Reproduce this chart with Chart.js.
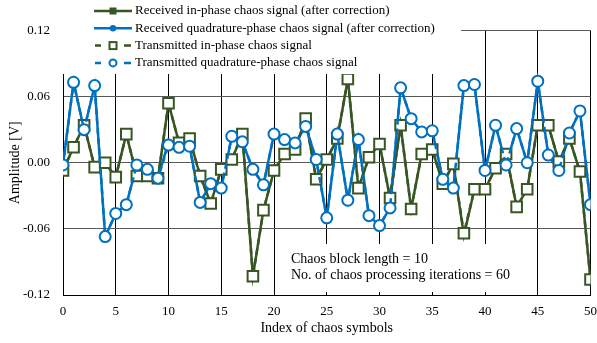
<!DOCTYPE html>
<html>
<head>
<meta charset="utf-8">
<script src="https://cdn.jsdelivr.net/npm/chart.js@4/dist/chart.umd.min.js"></script>
<style>
  html, body { margin: 0; padding: 0; background: #fff; }
  #wrap { width: 597px; height: 343px; }
</style>
</head>
<body>
<div id="wrap"><canvas id="chart" width="597" height="343"></canvas></div>
<script>
const symbolIndex = [
  0, 1, 2, 3, 4, 5, 6, 7, 8, 9, 10, 11, 12, 13, 14, 15, 16, 17, 18, 19, 20,
  21, 22, 23, 24, 25, 26, 27, 28, 29, 30, 31, 32, 33, 34, 35, 36, 37, 38, 39, 40,
  41, 42, 43, 44, 45, 46, 47, 48, 49, 50,
];

const txInPhase = [
  -0.007, 0.014, 0.034, -0.004, 0.000, -0.013, 0.026, -0.012, -0.012, -0.014,
  0.054, 0.018, 0.022, -0.012, -0.037, -0.006, 0.003, 0.026, -0.103, -0.043,
  -0.007, 0.008, 0.012, 0.040, -0.015, 0.003, 0.022, 0.076, -0.023, 0.005,
  0.017, -0.032, 0.034, -0.042, 0.008, 0.012, -0.019, -0.001, -0.064, -0.024,
  -0.024, -0.005, 0.008, -0.040, -0.024, 0.034, 0.034, 0.001, 0.022, -0.008,
  -0.106,
];
const rxInPhase = [
  -0.007, 0.014, 0.034, -0.004, 0.000, -0.013, 0.026, -0.012, -0.012, -0.014,
  0.054, 0.018, 0.022, -0.012, -0.037, -0.006, 0.003, 0.026, -0.103, -0.043,
  -0.007, 0.008, 0.012, 0.040, -0.015, 0.003, 0.022, 0.076, -0.023, 0.005,
  0.017, -0.032, 0.034, -0.042, 0.008, 0.012, -0.019, -0.001, -0.066, -0.024,
  -0.024, -0.005, 0.008, -0.040, -0.024, 0.034, 0.034, 0.001, 0.022, -0.008,
  -0.106,
];
const txQuadrature = [
  -0.002, 0.073, 0.030, 0.070, -0.067, -0.046, -0.038, -0.002, -0.006, -0.014,
  0.016, 0.014, 0.015, -0.036, -0.019, -0.023, 0.024, 0.019, -0.006, -0.020,
  0.026, 0.021, 0.018, 0.033, 0.003, -0.050, 0.026, -0.034, 0.021, -0.048,
  -0.057, -0.041, 0.068, 0.040, 0.028, 0.029, -0.015, -0.023, 0.070, 0.071,
  -0.007, 0.034, -0.002, 0.031, 0.000, 0.074, 0.007, -0.007, 0.027, 0.047,
  -0.038,
];
const rxQuadrature = [
  -0.002, 0.073, 0.030, 0.070, -0.067, -0.046, -0.038, -0.002, -0.006, -0.014,
  0.019, 0.014, 0.015, -0.036, -0.019, -0.023, 0.024, 0.019, -0.006, -0.020,
  0.026, 0.021, 0.018, 0.033, 0.003, -0.050, 0.026, -0.034, 0.021, -0.048,
  -0.057, -0.041, 0.068, 0.040, 0.028, 0.029, -0.015, -0.023, 0.070, 0.071,
  -0.007, 0.034, -0.002, 0.031, 0.000, 0.074, 0.007, -0.007, 0.027, 0.047,
  -0.038,
];

const legendLabels = [
  "Received in-phase chaos signal (after correction)",
  "Received quadrature-phase chaos signal (after correction)",
  "Transmitted in-phase chaos signal",
  "Transmitted quadrature-phase chaos signal",
];
const noteLines = [
  "Chaos block length = 10",
  "No. of chaos processing iterations = 60",
];

const GREEN = "#375623";
const BLUE = "#0070C0";
const FONT = '"Liberation Serif", "Times New Roman", serif';

// legend and note sit on white boxes over the plot, like the original figure
const overlays = {
  id: "overlays",
  afterDraw(chart) {
    const ctx = chart.ctx;
    ctx.save();
    ctx.fillStyle = "#fff";
    ctx.fillRect(56, 0, 405, 74);
    ctx.fillRect(280, 244, 242, 48);

    const styles = [
      { color: GREEN, shape: "rect", solid: true },
      { color: BLUE, shape: "circle", solid: true },
      { color: GREEN, shape: "rect", solid: false },
      { color: BLUE, shape: "circle", solid: false },
    ];
    ctx.font = "13px " + FONT;
    ctx.textBaseline = "middle";
    legendLabels.forEach((label, i) => {
      const y = 11 + i * 17.3;
      const st = styles[i];
      ctx.strokeStyle = st.color;
      ctx.lineWidth = 2.5;
      ctx.beginPath();
      if (st.solid) {
        ctx.moveTo(94, y);
        ctx.lineTo(132, y);
      } else {
        ctx.moveTo(95, y);
        ctx.lineTo(101, y);
        ctx.moveTo(124, y);
        ctx.lineTo(131, y);
      }
      ctx.stroke();
      ctx.lineWidth = 2;
      if (st.shape === "rect") {
        if (st.solid) {
          ctx.fillStyle = st.color;
          ctx.fillRect(109.5, y - 3.5, 7, 7);
        } else {
          ctx.fillStyle = "#fff";
          ctx.fillRect(109.5, y - 3.5, 7, 7);
          ctx.strokeRect(109.5, y - 3.5, 7, 7);
        }
      } else {
        ctx.beginPath();
        ctx.arc(113, y, st.solid ? 3.2 : 3.5, 0, Math.PI * 2);
        if (st.solid) {
          ctx.fillStyle = st.color;
          ctx.fill();
        } else {
          ctx.fillStyle = "#fff";
          ctx.fill();
          ctx.stroke();
        }
      }
      ctx.fillStyle = "#000";
      ctx.fillText(label, 135, y);
    });

    ctx.font = "14px " + FONT;
    noteLines.forEach((line, i) => {
      ctx.fillText(line, 291, 259.5 + i * 15.7);
    });
    ctx.restore();
  },
};

new Chart(document.getElementById("chart"), {
  type: "line",
  data: {
    labels: symbolIndex,
    datasets: [
      {
        label: legendLabels[0],
        data: rxInPhase,
        borderColor: GREEN,
        backgroundColor: GREEN,
        borderWidth: 2.5,
        pointStyle: "rect",
        pointRadius: 3.5,
        pointBorderWidth: 1,
        tension: 0,
        order: 3,
      },
      {
        label: legendLabels[1],
        data: rxQuadrature,
        borderColor: BLUE,
        backgroundColor: BLUE,
        borderWidth: 2.5,
        pointStyle: "circle",
        pointRadius: 3,
        pointBorderWidth: 1,
        tension: 0,
        order: 2,
      },
      {
        label: legendLabels[2],
        data: txInPhase,
        borderColor: GREEN,
        backgroundColor: "#fff",
        borderWidth: 2.5,
        borderDash: [6, 4],
        pointStyle: "rect",
        pointRadius: 7.5,
        pointBorderWidth: 2,
        tension: 0,
        order: 1,
      },
      {
        label: legendLabels[3],
        data: txQuadrature,
        borderColor: BLUE,
        backgroundColor: "#fff",
        borderWidth: 2.5,
        borderDash: [6, 4],
        pointStyle: "circle",
        pointRadius: 5.5,
        pointBorderWidth: 2,
        tension: 0,
        order: 0,
      },
    ],
  },
  options: {
    responsive: false,
    animation: false,
    layout: { autoPadding: false, padding: { left: 0, right: 6.5, top: 30.5, bottom: 0 } },
    plugins: {
      legend: { display: false },
      tooltip: { enabled: false },
    },
    scales: {
      x: {
        type: "linear",
        min: 0,
        max: 50,
        afterFit(scale) {
          scale.height = 48;
          scale.paddingLeft = 0;
          scale.paddingRight = 0;
        },
        ticks: { stepSize: 5, padding: 9, color: "#000", font: { family: FONT, size: 13 } },
        grid: { color: "#000", lineWidth: 1, drawTicks: false },
        border: { color: "#000", width: 1 },
        title: {
          display: true,
          text: "Index of chaos symbols",
          color: "#000",
          font: { family: FONT, size: 14 },
          padding: { top: 4, bottom: 6 },
        },
      },
      y: {
        min: -0.12,
        max: 0.12,
        afterFit(scale) {
          scale.width = 63;
          scale.paddingTop = 0;
          scale.paddingBottom = 0;
        },
        ticks: {
          stepSize: 0.06,
          padding: 13,
          color: "#000",
          font: { family: FONT, size: 13 },
          callback: (v) => (Math.abs(v) < 1e-9 ? 0 : v).toFixed(2),
        },
        grid: { color: "#595959", lineWidth: 1, drawTicks: false },
        border: { color: "#000", width: 1 },
        title: {
          display: true,
          text: "Amplitude [V]",
          color: "#000",
          font: { family: FONT, size: 14 },
          padding: { top: 7, bottom: 4 },
        },
      },
    },
  },
  plugins: [overlays],
});
</script>
</body>
</html>
